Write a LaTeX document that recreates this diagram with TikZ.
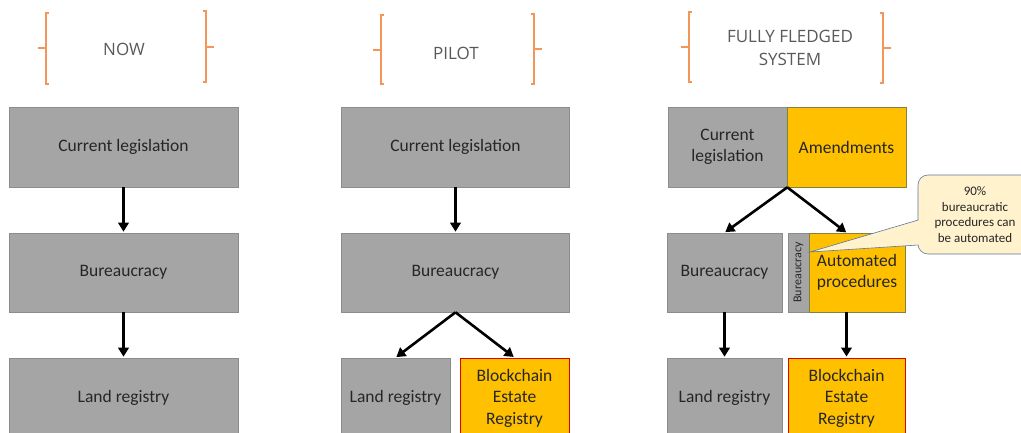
\documentclass[tikz,border=0pt]{standalone}
\usepackage{fontspec}
\setmainfont{Carlito}
\newfontfamily\hdrfont{Open Sans}
\usetikzlibrary{arrows.meta,calc}
\definecolor{boxgray}{RGB}{165,165,165}
\definecolor{boxgrayline}{RGB}{140,140,140}
\definecolor{gold}{RGB}{255,192,0}
\definecolor{goldline}{RGB}{130,130,60}
\definecolor{redline}{RGB}{224,0,0}
\definecolor{txt}{RGB}{38,38,38}
\definecolor{hdrtxt}{RGB}{89,89,89}
\definecolor{brk}{RGB}{244,150,90}
\definecolor{callfill}{RGB}{255,242,204}
\definecolor{callline}{RGB}{90,120,160}
\begin{document}
\begin{tikzpicture}[x=1pt,y=-1pt,
 gbox/.style={draw=boxgrayline, fill=boxgray, line width=0.6pt, text=txt, inner sep=0pt, align=center, font=\fontsize{17.5}{21.5}\selectfont},
 ybox/.style={gbox, fill=gold, draw=goldline},
 rbox/.style={gbox, fill=gold, draw=redline, line width=0.9pt},
 arr/.style={line width=2.6pt, -{Triangle[length=9pt,width=10.5pt]}, shorten >=1pt},
 hdr/.style={text=hdrtxt, font=\hdrfont\fontsize{17}{23.5}\selectfont, align=center},
 brack/.style={draw=brk, line width=1.6pt}
]
\useasboundingbox (0,0) rectangle (1021,433);
\clip (0,0) rectangle (1021,433);

% headers
\node[hdr] (h1) at (124,49) {NOW};
\node[hdr] (h2) at (456,53) {PILOT};
\node[hdr] (h3) at (790,48) {FULLY FLEDGED\\SYSTEM};

\draw[brack] (49,13) -- (46,13) -- (46,84) -- (49,84); \draw[brack] (46,48) -- (38,48);
\draw[brack] (203,11) -- (206,11) -- (206,82) -- (203,82); \draw[brack] (206,47) -- (214,47);
\draw[brack] (384,15) -- (381,15) -- (381,84) -- (384,84); \draw[brack] (381,50) -- (373,50);
\draw[brack] (531,14) -- (534,14) -- (534,84) -- (531,84); \draw[brack] (534,49) -- (542,49);
\draw[brack] (692,12) -- (689,12) -- (689,82) -- (692,82); \draw[brack] (689,47) -- (681,47);
\draw[brack] (880,13) -- (883,13) -- (883,83) -- (880,83); \draw[brack] (883,48) -- (891,48);

% column 1
\node[gbox, minimum width=229pt, minimum height=80pt] (cl1) at (123.5,147) {Current legislation};
\node[gbox, minimum width=229pt, minimum height=79pt] (bu1) at (123.5,272.5) {Bureaucracy};
\node[gbox, minimum width=229pt, minimum height=80pt] (lr1) at (123.5,398) {Land registry};
\draw[arr] (cl1) -- (bu1);
\draw[arr] (bu1) -- (lr1);

% column 2
\node[gbox, minimum width=228pt, minimum height=80pt] (cl2) at (455.5,147) {Current legislation};
\node[gbox, minimum width=228pt, minimum height=79pt] (bu2) at (455.5,272.5) {Bureaucracy};
\node[gbox, minimum width=109pt, minimum height=80pt] (lr2) at (395.5,398) {Land registry};
\node[rbox, minimum width=109pt, minimum height=80pt] (bc2) at (514.5,398) {Blockchain\\Estate\\Registry};
\draw[arr] (cl2) -- (bu2);
\draw[arr] (bu2.south) -- (lr2.north);
\draw[arr] (bu2.south) -- (bc2.north);

% column 3
\node[gbox, minimum width=119pt, minimum height=80pt] (cl3) at (727.5,147) {Current\\legislation};
\node[ybox, minimum width=119pt, minimum height=80pt] (am3) at (846.5,147) {Amendments};
\node[gbox, minimum width=115pt, minimum height=79pt] (bu3) at (724.5,272.5) {Bureaucracy};
\node[gbox, rotate=90, minimum width=79pt, minimum height=21pt, font=\fontsize{12}{14}\selectfont] (st3) at (798.5,272.5) {Bureaucracy};
\node[ybox, minimum width=96pt, minimum height=79pt] (au3) at (857,272.5) {Automated\\procedures};
\node[gbox, minimum width=115pt, minimum height=80pt] (lr3) at (724.5,398) {Land registry};
\node[rbox, minimum width=117pt, minimum height=80pt] (bc3) at (846.5,398) {Blockchain\\Estate\\Registry};
\coordinate (grp3) at (847,233);
\draw[arr] (cl3.south east) -- (bu3.north);
\draw[arr] (cl3.south east) -- (grp3);
\draw[arr] (bu3) -- (lr3);
\draw[arr] (bc3.north |- au3.south) -- (bc3.north);

% callout
\node[draw=callline, fill=callfill, rounded corners=10pt, line width=0.6pt, minimum width=114pt, minimum height=79pt, align=center, text=txt, font=\fontsize{13}{15.5}\selectfont] (co) at (975,214.5) {90\%\\bureaucratic\\procedures can\\be automated};
\coordinate (tip) at (810,252);
\fill[callfill] (tip) -- (919,220) -- (919,245) -- cycle;
\draw[callline, line width=0.6pt] (918.3,220) -- (tip) -- (918.3,245);
\end{tikzpicture}
\end{document}
